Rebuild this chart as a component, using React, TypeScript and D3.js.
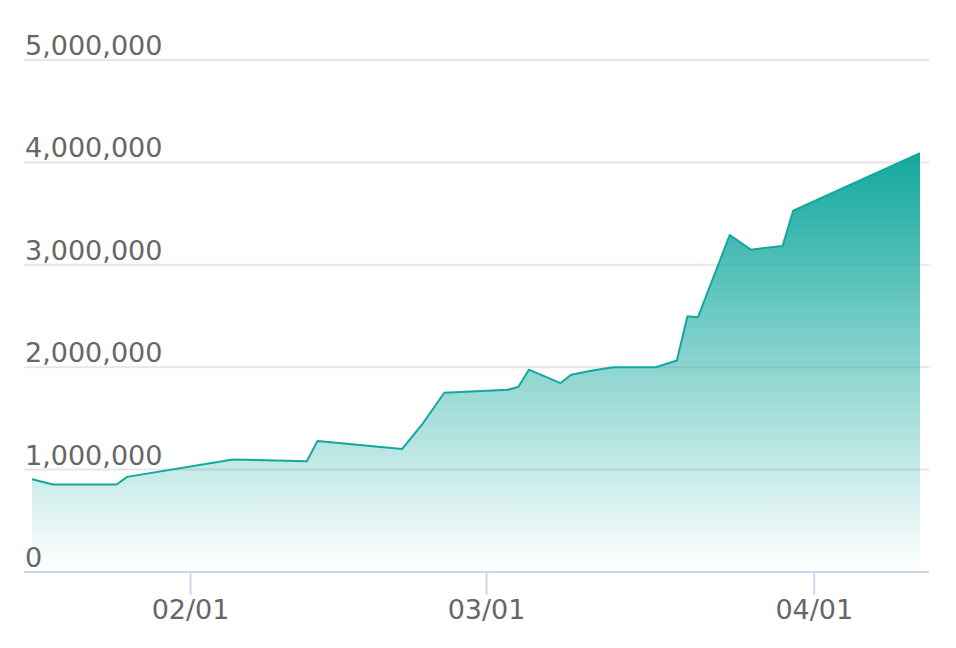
import React from "react";
import * as d3 from "d3";

const dates: string[] = [
  "2021-01-17", "2021-01-19", "2021-01-25", "2021-01-26", "2021-02-05",
  "2021-02-12", "2021-02-13", "2021-02-21", "2021-02-23", "2021-02-25",
  "2021-03-03", "2021-03-04", "2021-03-05", "2021-03-08", "2021-03-09",
  "2021-03-11", "2021-03-13", "2021-03-17", "2021-03-19", "2021-03-20",
  "2021-03-21", "2021-03-24", "2021-03-26", "2021-03-29", "2021-03-30",
  "2021-04-11",
];
const values: number[] = [
  906000, 855000, 855000, 929000, 1098000,
  1082000, 1280000, 1200000, 1455000, 1751000,
  1780000, 1806000, 1976000, 1845000, 1927000,
  1968000, 2000000, 2000000, 2066000, 2498000,
  2488000, 3291000, 3148000, 3184000, 3528000,
  4090000,
];
const yTicks: number[] = [0, 1000000, 2000000, 3000000, 4000000, 5000000];
const xTickDates: string[] = ["2021-02-01", "2021-03-01", "2021-04-01"];
const xTickLabels: string[] = ["02/01", "03/01", "04/01"];

const W = 956;
const H = 648;
const FONT = "'DejaVu Sans', sans-serif";
const TEAL = "#13a89e";

export default function App() {
  const parse = d3.timeParse("%Y-%m-%d");
  const data = dates.map((d, i) => ({ date: parse(d) as Date, value: values[i] }));

  const x = d3
    .scaleTime()
    .domain(d3.extent(data, (d) => d.date) as [Date, Date])
    .range([32, 920]);
  const y = d3.scaleLinear().domain([0, 5000000]).range([572, 60]);

  const line = d3
    .line<{ date: Date; value: number }>()
    .x((d) => x(d.date))
    .y((d) => y(d.value));
  const area = d3
    .area<{ date: Date; value: number }>()
    .x((d) => x(d.date))
    .y0(y(0))
    .y1((d) => y(d.value));

  const fmt = d3.format(",");
  const topY = y(d3.max(values) as number);

  return (
    <svg
      width={W}
      height={H}
      style={{ position: "absolute", left: 0, top: 0, background: "#fff" }}
    >
      <defs>
        <linearGradient
          id="fillGrad"
          gradientUnits="userSpaceOnUse"
          x1={0}
          y1={topY}
          x2={0}
          y2={y(0)}
        >
          <stop offset="0" stopColor={TEAL} stopOpacity={1} />
          <stop offset="1" stopColor={TEAL} stopOpacity={0} />
        </linearGradient>
      </defs>

      {yTicks.map((t) =>
        t === 0 ? null : (
          <line
            key={"g" + t}
            x1={24}
            x2={929}
            y1={y(t)}
            y2={y(t)}
            stroke="#e6e6e6"
            strokeWidth={2}
          />
        )
      )}

      <path d={area(data) || ""} fill="url(#fillGrad)" />
      <path
        d={line(data) || ""}
        fill="none"
        stroke={TEAL}
        strokeWidth={2}
        strokeLinejoin="round"
      />

      <line x1={24} x2={929} y1={y(0)} y2={y(0)} stroke="#ccd6eb" strokeWidth={2} />

      {yTicks.map((t) => (
        <text
          key={"yl" + t}
          x={25}
          y={y(t) - 5}
          fill="#666666"
          fontFamily={FONT}
          fontSize={27}
          textAnchor="start"
        >
          {fmt(t)}
        </text>
      ))}

      {xTickDates.map((d, i) => {
        const px = x(parse(d) as Date);
        return (
          <g key={"xt" + d}>
            <line x1={px} x2={px} y1={y(0)} y2={y(0) + 23} stroke="#ccd6eb" strokeWidth={2} />
            <text
              x={px}
              y={619}
              fill="#666666"
              fontFamily={FONT}
              fontSize={27}
              textAnchor="middle"
            >
              {xTickLabels[i]}
            </text>
          </g>
        );
      })}
    </svg>
  );
}
